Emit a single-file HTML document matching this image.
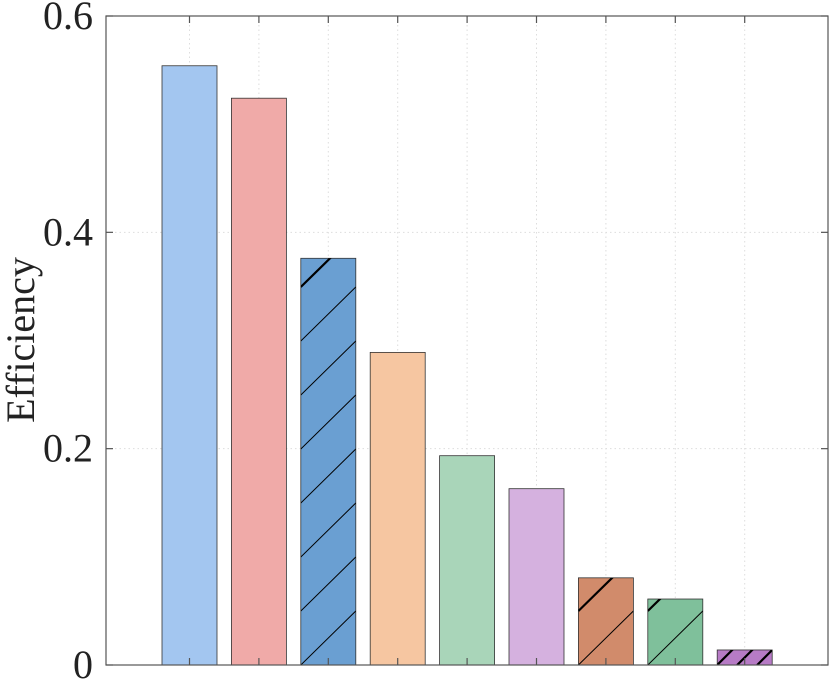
<!DOCTYPE html>
<html><head><meta charset="utf-8"><style>
html,body{margin:0;padding:0;background:#fff;}
svg{display:block;}
svg text{font-family:"Liberation Serif","Times New Roman",serif;}
</style></head><body>
<svg id="chart" width="830" height="682"></svg>
<script>
const categories = ["A","B","C","D","E","F","G","H","I"];
const values = [0.554, 0.524, 0.376, 0.289, 0.1935, 0.163, 0.0806, 0.061, 0.0139];
const colors = ["#a3c6f0","#f0aaa8","#6a9fd2","#f6c6a1","#a9d5b9","#d5b1df","#d18b6b","#7fc09b","#b77bc6"];
const hatched = [false,false,true,false,false,false,true,true,true];
const yTicks = [0, 0.2, 0.4, 0.6];
const yTickLabels = ["0","0.2","0.4","0.6"];

const NS = "http://www.w3.org/2000/svg";
const svg = document.getElementById("chart");
const L = 106, R = 828, T = 16, B = 665;
const yMax = 0.6;
const FONT = '"Liberation Serif","Times New Roman",serif';
function y(v){ return B - v / yMax * (B - T); }
function xc(i){ return 189.5 + i * 69.4; }
const bw = 55;
function mk(tag, attrs, parent){
  const e = document.createElementNS(NS, tag);
  for (const k in attrs) e.setAttribute(k, attrs[k]);
  (parent || svg).appendChild(e);
  return e;
}
const defs = mk("defs", {});
yTicks.forEach((t, i) => {
  if (t > 0 && t < yMax) {
    const g = mk("line", {x1:L, x2:R, y1:y(t), y2:y(t), stroke:"#ddd", "stroke-width":1, "stroke-dasharray":"1.5 3"});
    
    
  }
});
categories.forEach((c, i) => {
  const g = mk("line", {x1:xc(i), x2:xc(i), y1:T, y2:B, stroke:"#ddd", "stroke-width":1, "stroke-dasharray":"1.5 3"});
  
  
});
categories.forEach((c, i) => {
  const x0 = xc(i) - bw / 2, yt = y(values[i]);
  const r = mk("rect", {x:x0, y:yt, width:bw, height:B - yt, fill:colors[i], stroke:"#333", "stroke-width":0.8});
  
  
  if (hatched[i]) {
    const cp = mk("clipPath", {id:"cp" + i}, defs);
    mk("rect", {x:x0, y:yt, width:bw, height:B - yt}, cp);
    const g = mk("g", {"clip-path":"url(#cp" + i + ")"});
    
    
    const h = B - yt;
    if (h < 30) {
      for (let k = 0; k < 4; k++) {
        const xx = x0 + k * 20;
        mk("line", {x1:xx, y1:B, x2:xx + 16, y2:B - 16, stroke:"#000", "stroke-width":2.2}, g);
      }
    } else {
      for (let k = 0; B - k * 54 > yt - 60; k++) {
        const yy = B - k * 54;
        const top = yy - 54 < yt;
        mk("line", {x1:x0, y1:yy, x2:x0 + bw, y2:yy - 54, stroke:"#000", "stroke-width": top ? 2.2 : 1}, g);
      }
    }
  }
});
const box = mk("rect", {x:L, y:T, width:R - L, height:B - T, fill:"none", stroke:"#555", "stroke-width":1.2});


categories.forEach((c, i) => {
  mk("line", {x1:xc(i), x2:xc(i), y1:T, y2:T + 7, stroke:"#555", "stroke-width":1.2});
  mk("line", {x1:xc(i), x2:xc(i), y1:B, y2:B - 7, stroke:"#555", "stroke-width":1.2});
});
yTicks.forEach((t, i) => {
  mk("line", {x1:L, x2:L + 7, y1:y(t), y2:y(t), stroke:"#555", "stroke-width":1.2});
  mk("line", {x1:R, x2:R - 7, y1:y(t), y2:y(t), stroke:"#555", "stroke-width":1.2});
  const tx = mk("text", {x:93, y:y(t) + 13, "text-anchor":"end", "font-size":40, fill:"#222", "font-family":FONT});
  tx.textContent = yTickLabels[i];
  
  
});
const yl = mk("text", {x:0, y:0, transform:"translate(34,340) rotate(-90)", "text-anchor":"middle", "font-size":40, fill:"#222", "font-family":FONT});
yl.textContent = "Efficiency";


</script>
</body></html>
